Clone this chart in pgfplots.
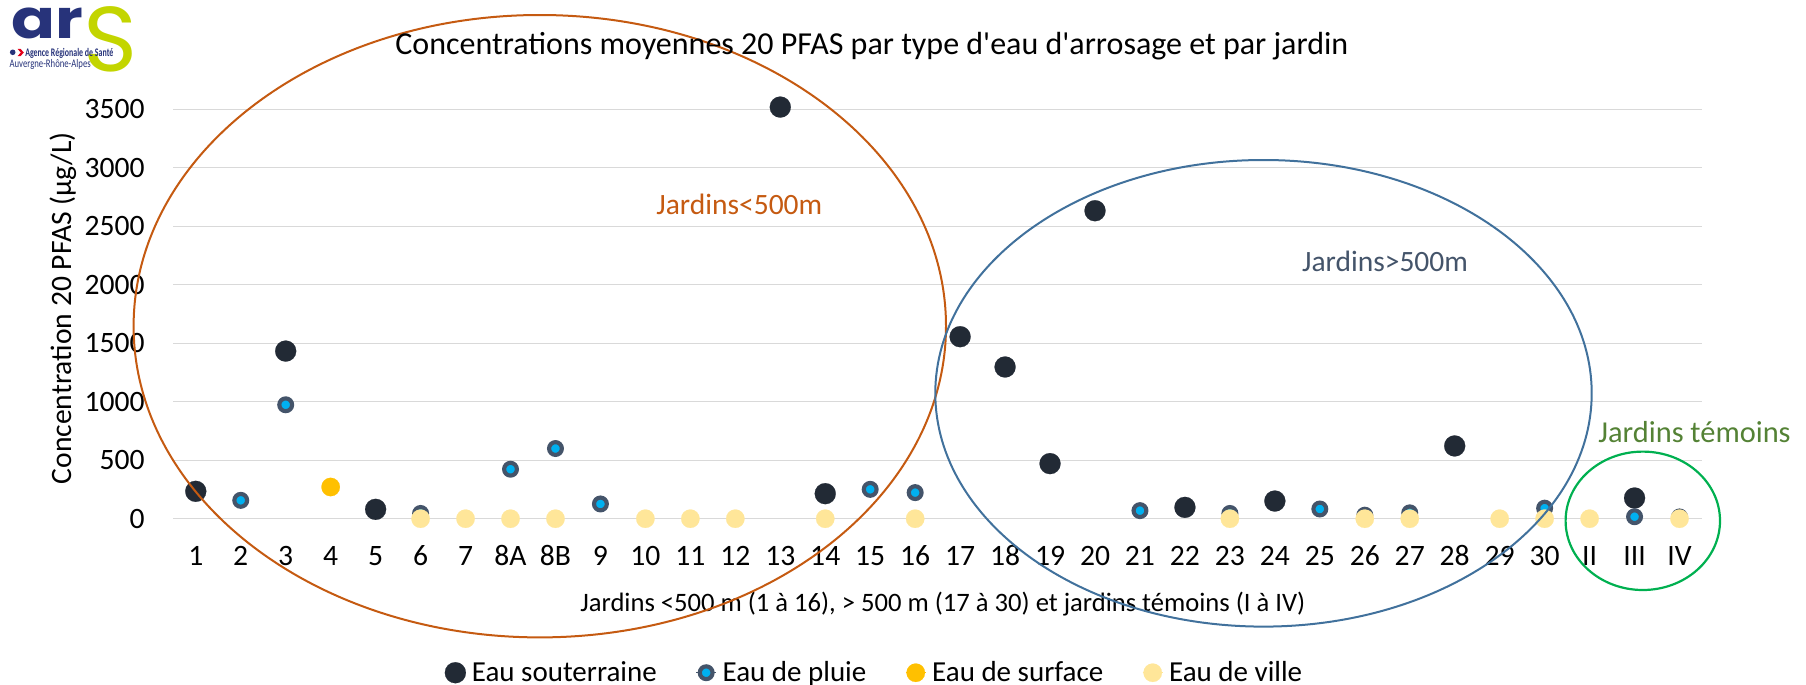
\documentclass[border=0pt]{standalone}
\usepackage{pgfplots}
\pgfplotsset{compat=1.18}
\usepackage{fontspec}
\setmainfont{Carlito}
\newfontfamily\logofont{Poppins}
\definecolor{cSout}{HTML}{222A35}
\definecolor{cPluieE}{HTML}{44546A}
\definecolor{cPluieF}{HTML}{00B0F0}
\definecolor{cSurf}{HTML}{FFC000}
\definecolor{cVille}{HTML}{FFE699}
\definecolor{cGrid}{HTML}{D9D9D9}
\definecolor{cOrange}{HTML}{C55A11}
\definecolor{cBlue}{HTML}{41719C}
\definecolor{cBlueT}{HTML}{44546A}
\definecolor{cGreen}{HTML}{00B050}
\definecolor{cGreenT}{HTML}{548235}
\definecolor{cNavy}{HTML}{27337A}
\definecolor{cLime}{HTML}{C3D500}
\definecolor{cRed}{HTML}{E2001A}
\begin{document}
\begin{tikzpicture}
\useasboundingbox (0,0) rectangle (903pt,-342.5pt);
\begin{axis}[
  at={(86.65pt,-259.35pt)}, anchor=south west,
  scale only axis, width=764.35pt, height=204.7pt,
  xmin=-0.5, xmax=33.5, ymin=0, ymax=3500,
  clip=false,
  axis line style={draw=none},
  tick style={draw=none},
  major tick length=0pt,
  ytick={0,500,...,3500},
  ymajorgrids,
  grid style={cGrid, line width=0.67pt},
  xtick={0,...,33},
  xticklabels={1,2,3,4,5,6,7,8A,8B,9,10,11,12,13,14,15,16,17,18,19,20,21,22,23,24,25,26,27,28,29,30,II,III,IV},
  /pgf/number format/assume math mode=true,
  /pgf/number format/1000 sep={},
  ticklabel style={font=\fontsize{14.8}{16}\selectfont, text=black},
  xticklabel style={anchor=base, yshift=-23.5pt, inner sep=0pt},
  yticklabel style={anchor=east, xshift=-14.15pt, inner sep=0pt},
  xlabel={Jardins <500 m (1 à 16), > 500 m (17 à 30) et jardins témoins (I à IV)},
  every axis x label/.style={at={(axis description cs:0.2660,-0.2272)}, anchor=base west, inner sep=0pt, font=\fontsize{13.3}{15}\selectfont},
  ylabel={Concentration 20 PFAS (µg/L)},
  every axis y label/.style={at={(axis description cs:-0.0669,0.5139)}, rotate=90, anchor=base, inner sep=0pt, font=\fontsize{14.8}{16}\selectfont},
  legend columns=4,
  legend cell align=left,
  legend image code/.code={\path (-5pt,0pt) -- (5pt,0pt); \draw[#1] plot coordinates {(0pt,0pt)};},
  legend style={at={(0.1774,-0.3762)}, anchor=west, draw=none, fill=none,
    font=\fontsize{14.5}{16}\selectfont, inner sep=0pt,
    nodes={inner sep=0pt},
    /tikz/every odd column/.append style={column sep=3pt},
    /tikz/every even column/.append style={column sep=19.5pt}},
]
\addplot[only marks, mark=*, mark size=5.25pt, color=cSout, mark options={line width=0.1pt}]
  coordinates {(0,234) (2,1433) (4,80) (13,3519) (14,214) (17,1556) (18,1297) (19,471) (20,2633) (22,97) (24,151) (28,622) (32,177)};
\addlegendentry{Eau souterraine}
\addplot[only marks, mark=*, mark size=3.2pt, color=cPluieE, mark options={draw=cPluieE, fill=cPluieF, line width=2.07pt}]
  coordinates {(1,157) (2,974) (5,45) (7,423) (8,600) (9,126) (15,251) (16,223) (21,69) (23,45) (25,83) (26,30) (27,50) (30,90) (32,17) (33,15)};
\addlegendentry{Eau de pluie}
\addplot[only marks, mark=*, mark size=4.6pt, color=cSurf, mark options={line width=0.1pt}]
  coordinates {(3,271)};
\addlegendentry{Eau de surface}
\addplot[only marks, mark=*, mark size=4.6pt, color=cVille, mark options={line width=0.1pt}]
  coordinates {(5,0) (6,0) (7,0) (8,0) (10,0) (11,0) (12,0) (14,0) (16,0) (23,0) (26,0) (27,0) (29,0) (30,0) (31,0) (33,0)};
\addlegendentry{Eau de ville}
\end{axis}
\begin{scope}[x=0.5pt,y=-0.5pt]
  % annotation ellipses
  \draw[cOrange, line width=1pt] (539.8,326.2) ellipse [x radius=203.1pt, y radius=155.6pt];
  \draw[cBlue, line width=1pt] (1263.5,393.3) ellipse [x radius=164.1pt, y radius=116.65pt];
  \draw[cGreen, line width=1.1pt] (1642.8,520.8) ellipse [x radius=38.6pt, y radius=34.6pt];
  % texts
  \node[anchor=base west, inner sep=0pt, font=\fontsize{16}{18}\selectfont] at (395,54.3) {Concentrations moyennes 20 PFAS par type d\textquotesingle eau d\textquotesingle arrosage et par jardin};
  \node[anchor=base west, inner sep=0pt, text=cOrange, font=\fontsize{14.75}{17}\selectfont] at (656,214) {Jardins<500m};
  \node[anchor=base west, inner sep=0pt, text=cBlueT, font=\fontsize{14.75}{17}\selectfont] at (1301.7,271.7) {Jardins>500m};
  \node[anchor=base west, inner sep=0pt, text=cGreenT, font=\fontsize{15.2}{17}\selectfont] at (1598,442.7) {Jardins témoins};
  % logo
  \node[anchor=base west, inner sep=0pt, text=cNavy, font=\logofont\fontsize{27}{30}\selectfont\bfseries, xscale=1.2] at (11,38.3) {ar};
  \node[anchor=base west, inner sep=0pt, text=cLime, font=\logofont\fontsize{46}{50}\selectfont] at (83,71.7) {S};
  \fill[cNavy] (12.7,52.3) circle [radius=1.4pt];
  \fill[cRed] (17.5,48.8) -- (20.5,48.8) -- (23.8,52.5) -- (20.5,56.2) -- (17.5,56.2) -- (20.8,52.5) -- cycle;
  \node[anchor=base west, inner sep=0pt, text=cNavy, font=\fontsize{5.8}{7}\selectfont\bfseries, xscale=0.68] at (25,56.7) {Agence Régionale de Santé};
  \node[anchor=base west, inner sep=0pt, text=cNavy, font=\fontsize{5.8}{7}\selectfont, xscale=0.75] at (9.3,67.7) {Auvergne-Rhône-Alpes};
\end{scope}
\end{tikzpicture}
\end{document}
